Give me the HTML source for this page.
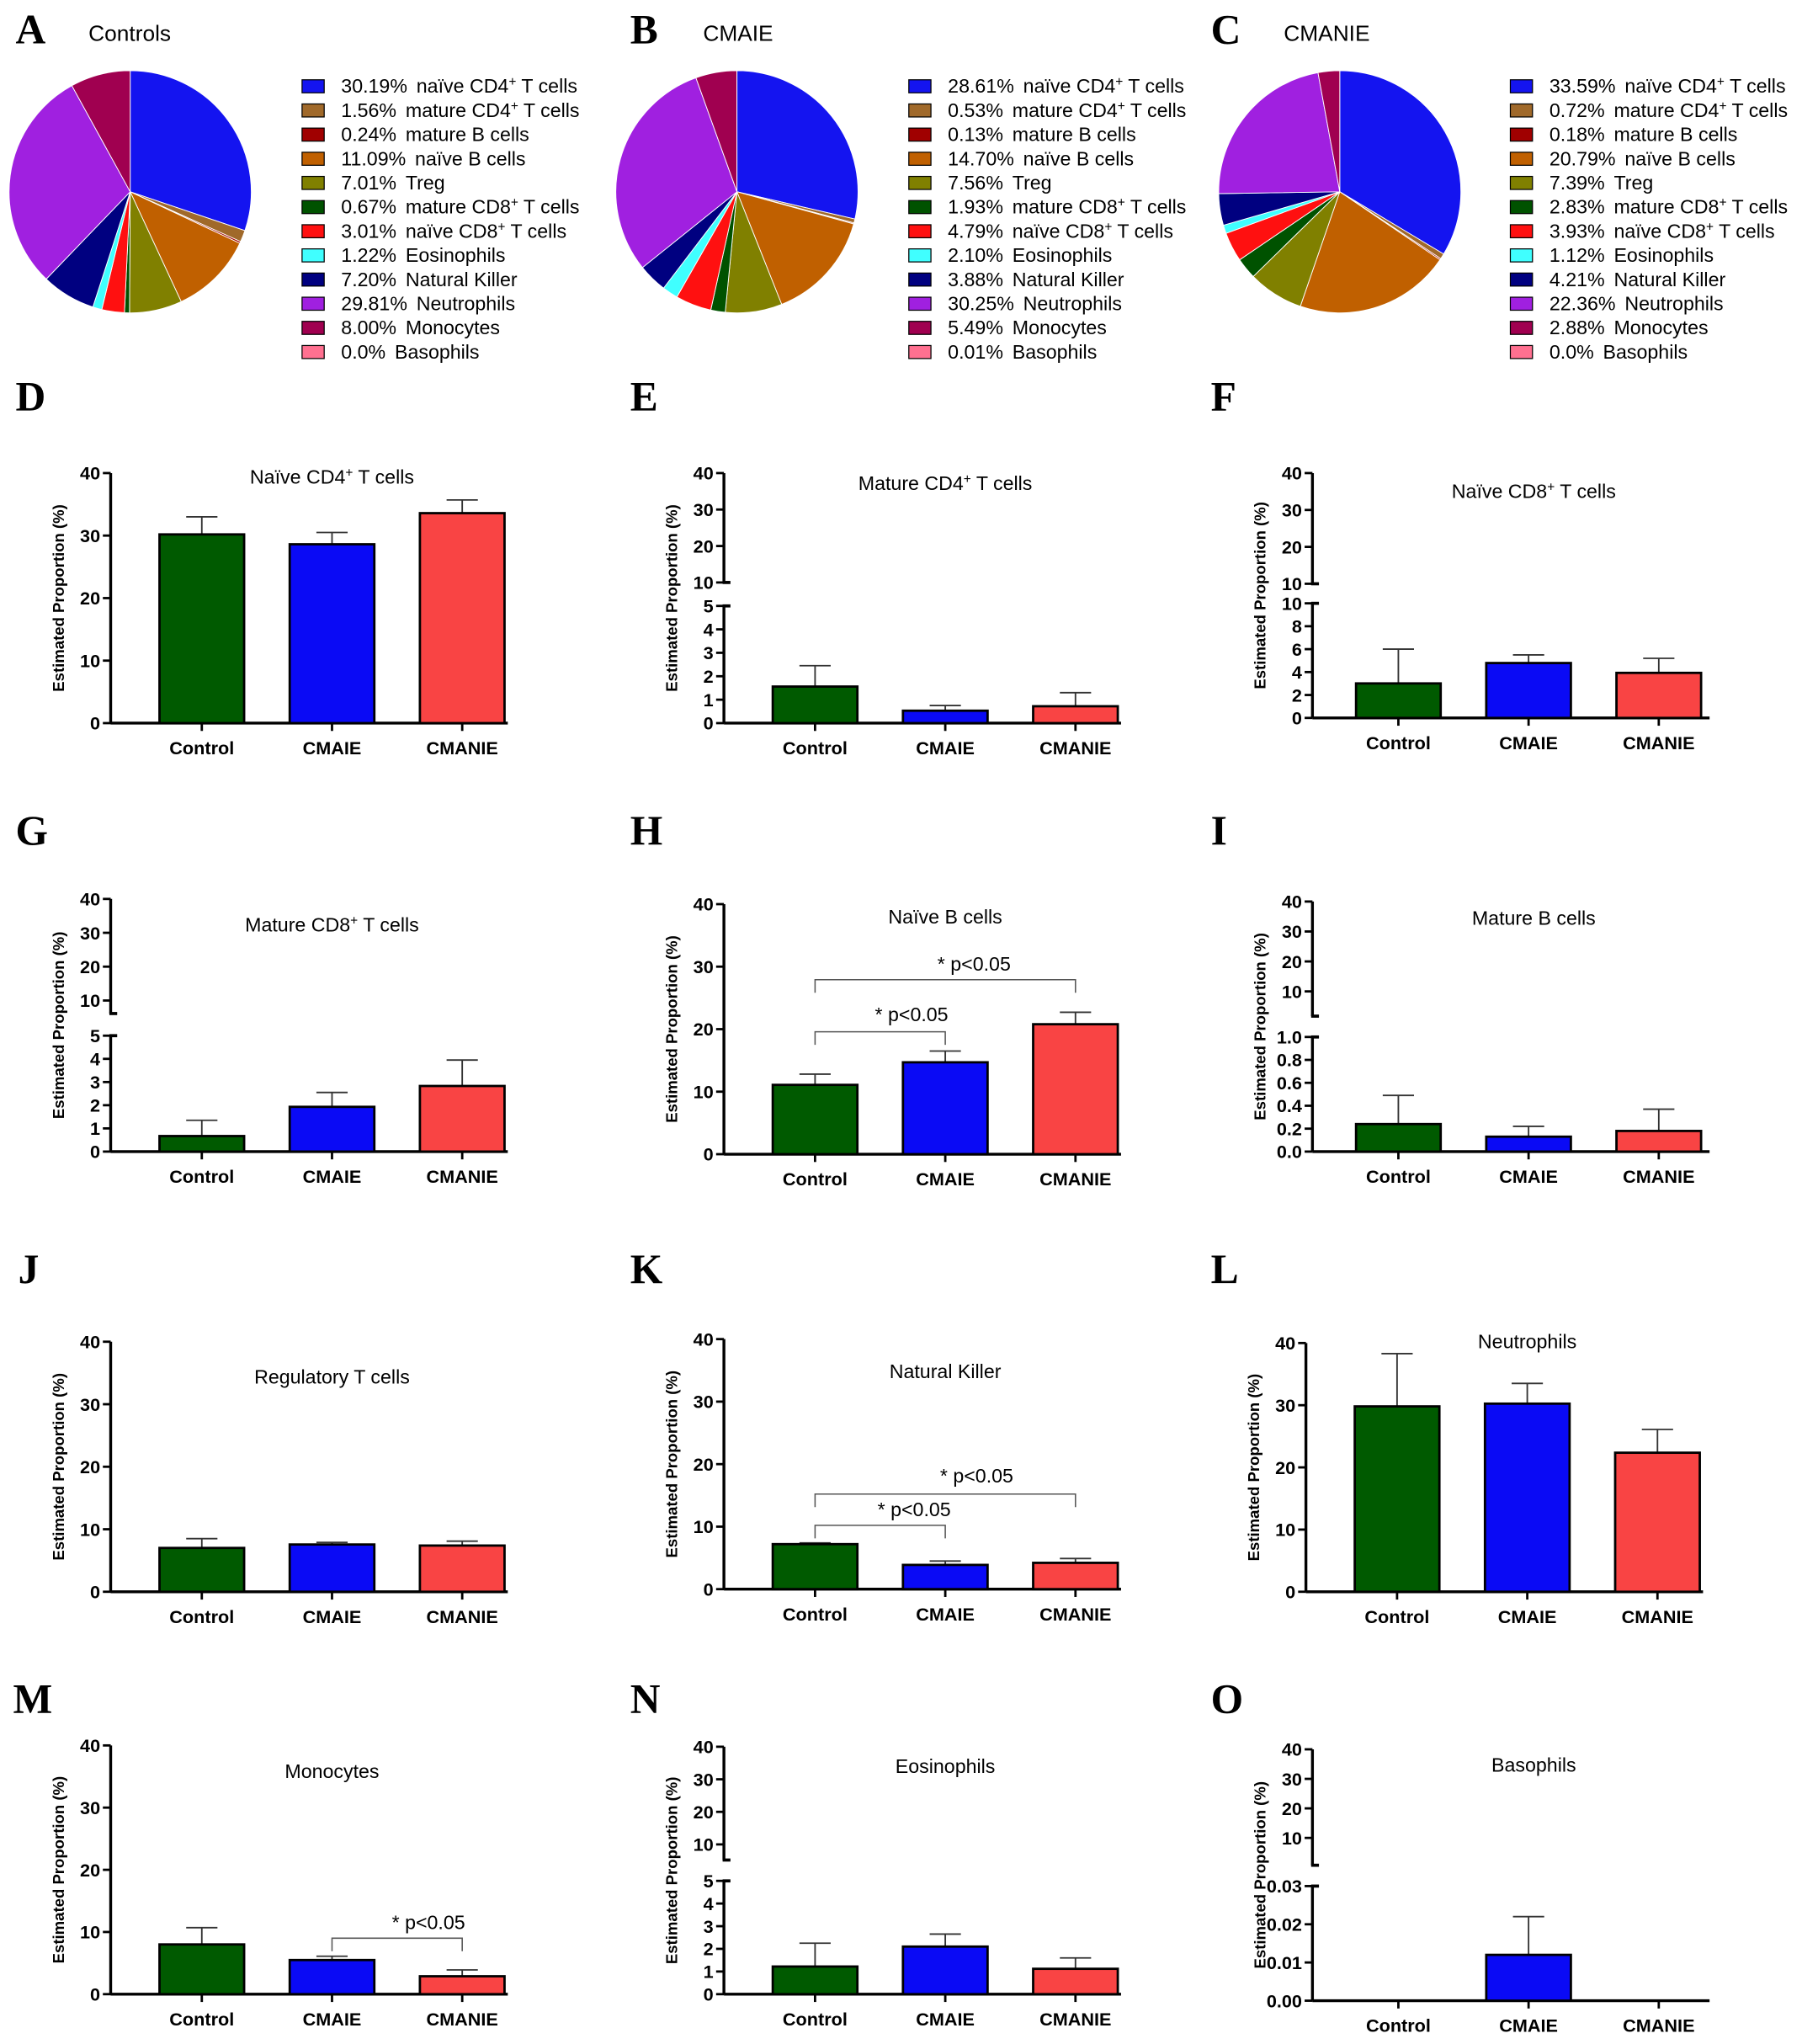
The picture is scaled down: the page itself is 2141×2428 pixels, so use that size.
<!DOCTYPE html>
<html><head><meta charset="utf-8">
<style>
html,body{margin:0;padding:0;background:#fff;}
svg{display:block;font-family:"Liberation Sans",sans-serif;}
.lt{font-family:"Liberation Serif",serif;font-weight:bold;font-size:32px;}
</style></head>
<body>
<svg id="fig" width="2141" height="2428" viewBox="0 0 1384 1569" xmlns="http://www.w3.org/2000/svg"></svg>
<script>
const NS="http://www.w3.org/2000/svg";
const svg=document.getElementById('fig');
// ---- pie data ----
const cellTypes=["naïve CD4+ T cells","mature CD4+ T cells","mature B cells","naïve B cells","Treg","mature CD8+ T cells","naïve CD8+ T cells","Eosinophils","Natural Killer","Neutrophils","Monocytes","Basophils"];
const pieColors=["#1414f0","#a0692a","#a00000","#c06000","#808000","#005200","#ff1010","#40ffff","#000080","#a020e0","#a00050","#ff7090"];
const pieControls=[30.19,1.56,0.24,11.09,7.01,0.67,3.01,1.22,7.20,29.81,8.00,0.0];
const pieCMAIE=[28.61,0.53,0.13,14.70,7.56,1.93,4.79,2.10,3.88,30.25,5.49,0.01];
const pieCMANIE=[33.59,0.72,0.18,20.79,7.39,2.83,3.93,1.12,4.21,22.36,2.88,0.0];
const pieLabels=[["30.19%","1.56%","0.24%","11.09%","7.01%","0.67%","3.01%","1.22%","7.20%","29.81%","8.00%","0.0%"],
["28.61%","0.53%","0.13%","14.70%","7.56%","1.93%","4.79%","2.10%","3.88%","30.25%","5.49%","0.01%"],
["33.59%","0.72%","0.18%","20.79%","7.39%","2.83%","3.93%","1.12%","4.21%","22.36%","2.88%","0.0%"]];
// ---- bar data ----
const groups=["Control","CMAIE","CMANIE"];
const barColors=["#005a00","#0a0af5","#f94444"];
const meansD=[30.19,28.61,33.59], errD=[33,30.5,35.7];
const meansE=[1.56,0.53,0.72], errE=[2.45,0.75,1.3];
const meansF=[3.01,4.79,3.93], errF=[6.0,5.5,5.2];
const meansG=[0.67,1.93,2.83], errG=[1.35,2.55,3.95];
const meansH=[11.09,14.70,20.79], errH=[12.8,16.5,22.7];
const meansI=[0.24,0.13,0.18], errI=[0.49,0.22,0.37];
const meansJ=[7.01,7.56,7.39], errJ=[8.5,7.9,8.1];
const meansK=[7.20,3.88,4.21], errK=[7.4,4.5,4.9];
const meansL=[29.81,30.25,22.36], errL=[38.3,33.5,26.1];
const meansM=[8.00,5.49,2.88], errM=[10.7,6.1,3.9];
const meansN=[1.22,2.10,1.12], errN=[2.25,2.65,1.6];
const meansO=[0,0.012,0], errO=[0,0.022,0];
const ticks040=[0,10,20,30,40], ticksUp=[10,20,30,40];
const ticks05=[0,1,2,3,4,5], ticks010=[0,2,4,6,8,10], ticks01=[0,0.2,0.4,0.6,0.8,1.0], ticks003=[0,0.01,0.02,0.03];

function el(tag,attrs,parent){const e=document.createElementNS(NS,tag);for(const k in attrs)e.setAttribute(k,attrs[k]);(parent||svg).appendChild(e);return e;}
function txt(s,x,y,size,extra,parent){const t=el('text',Object.assign({x:x,y:y,'font-size':size},extra||{}),parent);t.textContent=s;return t;}

function supLabel(t,label){
  const m=label.match(/^(.*?CD[48])\+(.*)$/);
  if(!m){const s=document.createElementNS(NS,'tspan');s.textContent=label;t.appendChild(s);return;}
  const a=document.createElementNS(NS,'tspan');a.textContent=m[1];t.appendChild(a);
  const b=document.createElementNS(NS,'tspan');b.textContent='+';b.setAttribute('baseline-shift','super');b.setAttribute('font-size','10');t.appendChild(b);
  const c=document.createElementNS(NS,'tspan');c.textContent=m[2];t.appendChild(c);
}

function pie(vals,labels,cx,cy,r,lx,letter,lettX,title,name){
  const g=el('g',{},svg);
  
  
  const tot=vals.reduce((a,b)=>a+b,0);let a0=-Math.PI/2;
  vals.forEach((v,i)=>{
    if(v<=0)return;
    const a1=a0+v/tot*2*Math.PI;
    const large=(a1-a0)>Math.PI?1:0;
    const p=el('path',{d:`M${cx},${cy} L${cx+r*Math.cos(a0)},${cy+r*Math.sin(a0)} A${r},${r} 0 ${large} 1 ${cx+r*Math.cos(a1)},${cy+r*Math.sin(a1)} Z`,fill:pieColors[i],stroke:'#fff','stroke-width':0.6},g);
    
    
    a0=a1;
  });
  const L=txt(letter,lettX,33,32,{class:'lt'},g);
  
  
  const T=txt(title,lettX+56,31,17,{},g);
  
  
  cellTypes.forEach((c,i)=>{
    const y=66+i*18.55;
    const s=el('rect',{x:lx,y:y-5,width:17,height:10,fill:pieColors[i],stroke:'#000','stroke-width':0.8},g);
    
    
    const t=txt('',lx+30,y+5,15,{},g);
    
    
    const pc=document.createElementNS(NS,'tspan');pc.textContent=labels[i];t.appendChild(pc);
    const inner=document.createElementNS(NS,'tspan');inner.setAttribute('dx','7');t.appendChild(inner);
    supLabel(inner,c);
  });
}
pie(pieControls,pieLabels[0],100,147,93,232,'A',12,'Controls','pie-controls');
pie(pieCMAIE,pieLabels[1],566,147,93,698,'B',484,'CMAIE','pie-cmaie');
pie(pieCMANIE,pieLabels[2],1029,147,93,1160,'C',930,'CMANIE','pie-cmanie');

function fmt(v,dec){return dec?v.toFixed(dec):String(v);}
function panel(o){
  const g=el('g',{},svg);
  
  
  const L=txt(o.letter,o.lx,o.ly,32,{class:'lt'},g);
  
  
  const ax=o.ax;
  function yOf(v){
    for(const s of o.segs){ if(v>=s.lo&&v<=s.hi) return s.yLo-(v-s.lo)/(s.hi-s.lo)*(s.yLo-s.yHi); }
    const s=o.segs[0]; return s.yLo-(v-s.lo)/(s.hi-s.lo)*(s.yLo-s.yHi);
  }
  o.segs.forEach((s,k)=>{
    const bot=(k>0&&o.ext)?o.ext:s.yLo;
    el('line',{x1:ax,y1:bot,x2:ax,y2:s.yHi,stroke:'#000','stroke-width':2.2},g);
    s.ticks.forEach(t=>{
      const y=s.yLo-(t-s.lo)/(s.hi-s.lo)*(s.yLo-s.yHi);
      el('line',{x1:ax-6,y1:y,x2:ax,y2:y,stroke:'#000','stroke-width':1.8},g);
      const tl=txt(fmt(t,s.dec),ax-8,y+5,14,{'text-anchor':'end','font-weight':'bold'},g);
      
      
    });
  });
  if(o.segs.length>1){
    const a=o.ext||o.segs[1].yLo,b=o.segs[0].yHi;
    el('line',{x1:ax-1,y1:a,x2:ax+5,y2:a,stroke:'#000','stroke-width':2.4},g);
    el('line',{x1:ax-1,y1:b,x2:ax+5,y2:b,stroke:'#000','stroke-width':2.4},g);
  }
  const y0=o.segs[0].yLo;
  el('line',{x1:ax,y1:y0,x2:ax+305,y2:y0,stroke:'#000','stroke-width':2.2},g);
  const yl=txt('Estimated Proportion (%)',0,0,12,{'font-weight':'bold','text-anchor':'middle',transform:`translate(${ax-36},${(y0+o.segs[o.segs.length-1].yHi)/2}) rotate(-90)`},g);
  
  
  const tt=txt('',ax+170,o.ty,15,{'text-anchor':'middle'},g);
  
  
  supLabel(tt,o.title);
  const bw=65;
  groups.forEach((gr,i)=>{
    const cx=ax+(o.off||70)+i*100;
    el('line',{x1:cx,y1:y0,x2:cx,y2:y0+6,stroke:'#000','stroke-width':1.8},g);
    const xl=txt(gr,cx,y0+24,14,{'text-anchor':'middle','font-weight':'bold'},g);
    
    
    const v=o.means[i];
    if(v>0){
      const yt=yOf(v),ye=yOf(o.errs[i]);
      el('line',{x1:cx,y1:yt,x2:cx,y2:ye,stroke:'#333','stroke-width':1.2},g);
      el('line',{x1:cx-12,y1:ye,x2:cx+12,y2:ye,stroke:'#333','stroke-width':1.2},g);
      const r=el('rect',{x:cx-bw/2,y:yt,width:bw,height:y0-yt,fill:barColors[i],stroke:'#000','stroke-width':1.8},g);
      
      
    }
  });
  (o.sig||[]).forEach(s=>{
    const xa=ax+(o.off||70)+s[0]*100,xb=ax+(o.off||70)+s[1]*100,y=s[2];
    el('path',{d:`M${xa},${y+10} L${xa},${y} L${xb},${y} L${xb},${y+10}`,fill:'none',stroke:'#555','stroke-width':1},g);
    const st=txt('* p<0.05',s[3],s[4],15,{},g);
    
    
  });
}
const seg=(lo,hi,yLo,yHi,ticks,dec)=>({lo,hi,yLo,yHi,ticks,dec});
panel({letter:'D',lx:12,ly:315,ax:85,ty:371,title:'Naïve CD4+ T cells',means:meansD,errs:errD,segs:[seg(0,40,555,363,ticks040)]});
panel({letter:'E',lx:484,ly:315,ax:556,ty:376,title:'Mature CD4+ T cells',means:meansE,errs:errE,segs:[seg(0,5,555,465,ticks05),seg(10,40,447,363,ticksUp)]});
panel({letter:'F',lx:930,ly:315,ax:1008,off:66,ty:382,title:'Naïve CD8+ T cells',means:meansF,errs:errF,segs:[seg(0,10,551,463,ticks010),seg(10,40,448,363,ticksUp)]});
panel({letter:'G',lx:12,ly:648,ax:85,ty:715,title:'Mature CD8+ T cells',means:meansG,errs:errG,segs:[seg(0,5,884,795,ticks05),seg(10,40,768,690,ticksUp)],ext:778});
panel({letter:'H',lx:484,ly:648,ax:556,ty:709,title:'Naïve B cells',means:meansH,errs:errH,segs:[seg(0,40,886,694,ticks040)],sig:[[0,1,792,672,784],[0,2,752,720,745]]});
panel({letter:'I',lx:930,ly:648,ax:1008,off:66,ty:710,title:'Mature B cells',means:meansI,errs:errI,segs:[seg(0,1,884,796,ticks01,1),seg(10,40,761,692,ticksUp)],ext:780});
panel({letter:'J',lx:14,ly:985,ax:85,ty:1062,title:'Regulatory T cells',means:meansJ,errs:errJ,segs:[seg(0,40,1222,1030,ticks040)]});
panel({letter:'K',lx:484,ly:985,ax:556,ty:1058,title:'Natural Killer',means:meansK,errs:errK,segs:[seg(0,40,1220,1028,ticks040)],sig:[[0,1,1171,674,1164],[0,2,1147,722,1138]]});
panel({letter:'L',lx:930,ly:985,ax:1003,ty:1035,title:'Neutrophils',means:meansL,errs:errL,segs:[seg(0,40,1222,1031,ticks040)]});
panel({letter:'M',lx:10,ly:1315,ax:85,ty:1365,title:'Monocytes',means:meansM,errs:errM,segs:[seg(0,40,1531,1340,ticks040)],sig:[[1,2,1488,301,1481]]});
panel({letter:'N',lx:484,ly:1315,ax:556,ty:1361,title:'Eosinophils',means:meansN,errs:errN,segs:[seg(0,5,1531,1444,ticks05),seg(10,40,1416,1341,ticksUp)],ext:1428});
panel({letter:'O',lx:930,ly:1315,ax:1008,off:66,ty:1360,title:'Basophils',means:meansO,errs:errO,segs:[seg(0,0.03,1536,1448,ticks003,2),seg(10,40,1411,1343,ticksUp)],ext:1432});
</script>
</body></html>
